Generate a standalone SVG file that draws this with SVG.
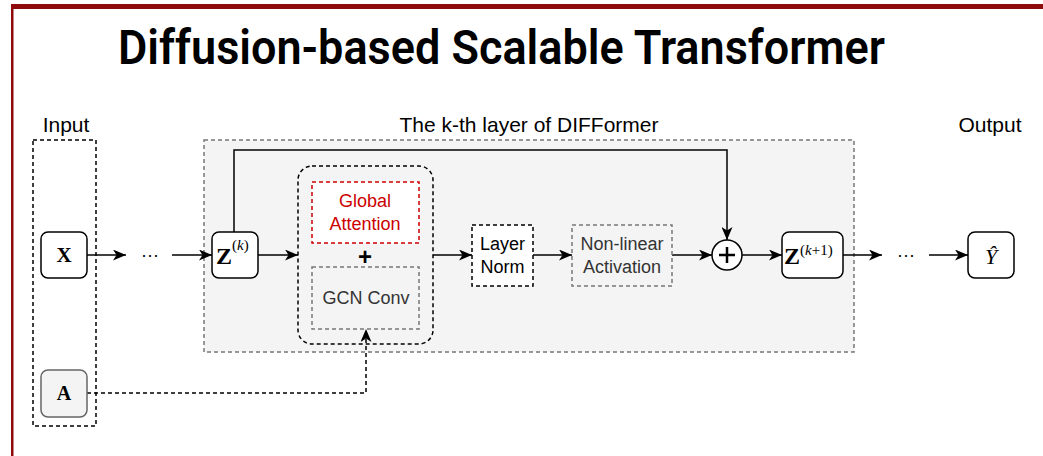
<svg xmlns="http://www.w3.org/2000/svg" width="1043" height="456" viewBox="0 0 1043 456">
  <style>
    .lbl { font-family: "Liberation Sans", Arial, sans-serif; font-size: 21px; fill: #000; text-anchor: middle; }
    .txt { font-family: "Liberation Sans", Arial, sans-serif; font-size: 18px; fill: #000; text-anchor: middle; }
    .gray { fill: #333; }
    .red { fill: #cc0000; }
    .math { font-family: "Liberation Serif", "Times New Roman", serif; fill: #000; }
    .box { fill: #fff; stroke: #000; stroke-width: 1.5; }
    .dash { stroke-dasharray: 4 3; }
    .conn { fill: none; stroke: #000; stroke-width: 1.5; }
  </style>
  <defs>
    <marker id="arr" markerUnits="userSpaceOnUse" markerWidth="13" markerHeight="11" viewBox="0 0 13 11" refX="13" refY="5.5" orient="auto">
      <path d="M0,0 L13,5.5 L0,11 L3.5,5.5 Z" fill="#000"/>
    </marker>
  </defs>

  <rect x="0" y="0" width="1043" height="456" fill="#fff"/>

  <!-- frame -->
  <g id="frame">
    <rect x="11" y="4" width="1032" height="5" fill="#8f0b0b"/>
    <rect x="11" y="4" width="2.5" height="452" fill="#8f0b0b"/>
  </g>

  <!-- title -->
  <g id="title">
    <text x="118" y="64" textLength="767" lengthAdjust="spacingAndGlyphs" font-family="'Roboto', 'Liberation Sans', sans-serif" font-weight="600" font-size="48" fill="#000">Diffusion-based Scalable Transformer</text>
  </g>

  <!-- labels -->
  <g id="labels">
    <text class="lbl" x="66" y="132">Input</text>
    <text class="lbl" x="529" y="132">The k-th layer of DIFFormer</text>
    <text class="lbl" x="990" y="132">Output</text>
  </g>

  <!-- containers -->
  <g id="input-group">
    <rect x="33" y="140" width="63" height="286" fill="none" stroke="#000" stroke-width="1.5" class="dash"/>
  </g>
  <g id="layer-group">
    <rect x="204" y="140" width="650" height="212" fill="#f4f4f4" stroke="#777" stroke-width="1.5" class="dash"/>
  </g>

  <!-- connectors -->
  <g id="connectors">
    <line class="conn" x1="87" y1="255" x2="126" y2="255" marker-end="url(#arr)"/>
    <line class="conn" x1="172" y1="255" x2="212" y2="255" marker-end="url(#arr)"/>
    <line class="conn" x1="258" y1="255" x2="298" y2="255" marker-end="url(#arr)"/>
    <polyline class="conn" points="234,232 234,150 727,150 727,240" marker-end="url(#arr)"/>
    <line class="conn" x1="433" y1="255" x2="472" y2="255" marker-end="url(#arr)"/>
    <line class="conn" x1="533" y1="255" x2="572" y2="255" marker-end="url(#arr)"/>
    <line class="conn" x1="672" y1="255" x2="712" y2="255" marker-end="url(#arr)"/>
    <line class="conn" x1="742" y1="255" x2="782" y2="255" marker-end="url(#arr)"/>
    <line class="conn" x1="843" y1="255" x2="882" y2="255" marker-end="url(#arr)"/>
    <line class="conn" x1="929" y1="255" x2="968" y2="255" marker-end="url(#arr)"/>
    <polyline class="conn dash" points="87,393 366,393 366,329" marker-end="url(#arr)"/>
  </g>

  <!-- dots -->
  <g id="dots-left"><text class="txt" x="150" y="261">···</text></g>
  <g id="dots-right"><text class="txt" x="906" y="261">···</text></g>

  <!-- nodes -->
  <g id="node-x">
    <rect class="box" x="41" y="232" width="46" height="46" rx="7"/>
    <text class="math" x="64" y="262" font-size="21" font-weight="bold" text-anchor="middle">X</text>
  </g>

  <g id="node-a">
    <rect x="41" y="370" width="46" height="47" rx="7" fill="#f4f4f4" stroke="#666" stroke-width="1.5"/>
    <text class="math" x="64" y="400" font-size="20" font-weight="bold" text-anchor="middle" fill="#333">A</text>
  </g>

  <g id="node-zk">
    <rect class="box" x="212" y="232" width="46" height="46" rx="7"/>
    <text class="math" x="216" y="264" font-size="24" font-weight="bold">Z</text>
    <text class="math" x="232" y="250" font-size="15">(<tspan font-style="italic">k</tspan>)</text>
  </g>

  <g id="node-mix">
    <rect x="298" y="166" width="135" height="178" rx="14" fill="none" stroke="#000" stroke-width="1.5" class="dash"/>
  </g>

  <g id="node-attention">
    <rect x="312" y="182" width="107" height="61" fill="#fff" stroke="#cc0000" stroke-width="1.5" class="dash"/>
    <text class="txt red" x="365" y="207">Global</text>
    <text class="txt red" x="365" y="230">Attention</text>
  </g>

  <g id="node-plus-sign">
    <text x="365" y="265" font-family="'Liberation Sans', Arial, sans-serif" font-size="24" font-weight="bold" text-anchor="middle" fill="#000">+</text>
  </g>

  <g id="node-gcn">
    <rect x="312" y="267" width="107" height="62" fill="#f4f4f4" stroke="#777" stroke-width="1.5" class="dash"/>
    <text class="txt gray" x="366" y="304" font-size="19">GCN Conv</text>
  </g>

  <g id="node-layernorm">
    <rect x="472" y="225" width="61" height="61" fill="#fff" stroke="#000" stroke-width="1.5" class="dash"/>
    <text class="txt" x="502.5" y="250">Layer</text>
    <text class="txt" x="502.5" y="273">Norm</text>
  </g>

  <g id="node-activation">
    <rect x="572" y="225" width="100" height="61" fill="#f4f4f4" stroke="#777" stroke-width="1.5" class="dash"/>
    <text class="txt gray" x="622" y="250">Non-linear</text>
    <text class="txt gray" x="622" y="273">Activation</text>
  </g>

  <g id="node-sum">
    <circle cx="727" cy="255" r="15" fill="#fff" stroke="#000" stroke-width="1.5"/>
    <path d="M719,255 H735 M727,247 V263" stroke="#000" stroke-width="2.5" fill="none"/>
  </g>

  <g id="node-zk1">
    <rect class="box" x="782" y="232" width="61" height="46" rx="7"/>
    <text class="math" x="784" y="264" font-size="24" font-weight="bold">Z</text>
    <text class="math" x="800" y="255" font-size="15">(<tspan font-style="italic">k</tspan>+1)</text>
  </g>

  <g id="node-yhat">
    <rect class="box" x="968" y="232" width="46" height="46" rx="7"/>
    <text class="math" x="991" y="264" font-size="22" font-style="italic" text-anchor="middle">Ŷ</text>
  </g>
</svg>
